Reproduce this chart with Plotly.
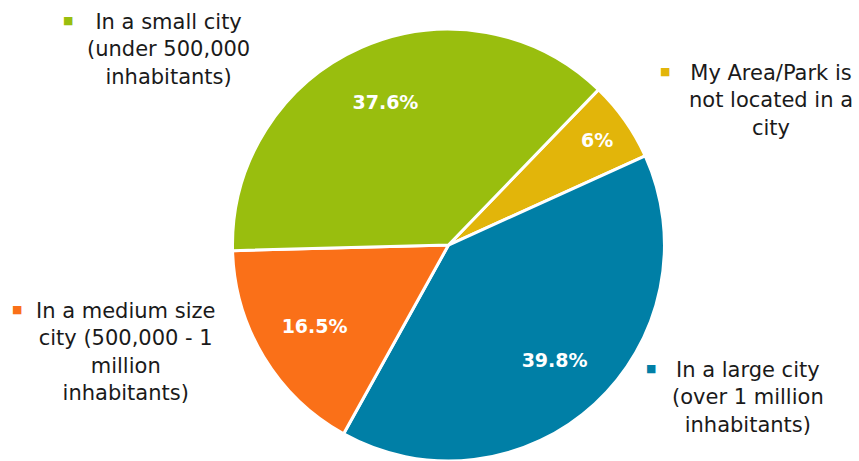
import plotly.graph_objects as go

categories = [
    "My Area/Park is<br>not located in a<br>city",
    "In a large city<br>(over 1 million<br>inhabitants)",
    "In a medium size<br>city (500,000 - 1<br>million<br>inhabitants)",
    "In a small city<br>(under 500,000<br>inhabitants)",
]
values = [6, 39.8, 16.5, 37.6]
colors = ["#E2B50A", "#007FA6", "#FA7018", "#99BE0E"]

W, H = 859, 461
FONT = "DejaVu Sans"
DOMAIN = dict(x=[0.2706, 0.7736], y=[0.0, 0.937])

fig = go.Figure()
# coloured pie (no text)
fig.add_trace(go.Pie(
    labels=categories,
    values=values,
    sort=False,
    direction="clockwise",
    rotation=44,
    marker=dict(colors=colors, line=dict(color="white", width=3)),
    textinfo="none",
    domain=DOMAIN,
    showlegend=False,
    hoverinfo="label+percent",
))
# transparent ring carrying the percentage labels further out
fig.add_trace(go.Pie(
    labels=categories,
    values=values,
    sort=False,
    direction="clockwise",
    rotation=44,
    hole=0.45,
    marker=dict(colors=["rgba(0,0,0,0)"] * len(values), line=dict(width=0)),
    texttemplate="%{value}%",
    textposition="inside",
    insidetextorientation="horizontal",
    textfont=dict(family=FONT, size=19, color="white", weight="bold"),
    domain=DOMAIN,
    showlegend=False,
    hoverinfo="skip",
))

# label block centres (px) and bullet positions (px)
label_pos = [(771, 100), (748, 397), (125, 352), (168, 50)]
bullet_pos = [(665, 71), (651, 368), (17, 309), (68, 21)]

for cat, col, (lx, ly), (bx, by) in zip(categories, colors, label_pos, bullet_pos):
    fig.add_annotation(
        x=lx / W, y=1 - ly / H, xref="paper", yref="paper",
        text=cat, showarrow=False, xanchor="center", yanchor="middle",
        align="center", font=dict(family=FONT, size=21, color="#1a1a1a"),
    )
    fig.add_annotation(
        x=bx / W, y=1 - by / H, xref="paper", yref="paper",
        text="■", showarrow=False, xanchor="center", yanchor="middle",
        font=dict(family=FONT, size=11, color=col),
    )

fig.update_layout(
    width=W, height=H,
    margin=dict(l=0, r=0, t=0, b=0),
    paper_bgcolor="white", plot_bgcolor="white",
)

fig.write_html("out.html")
